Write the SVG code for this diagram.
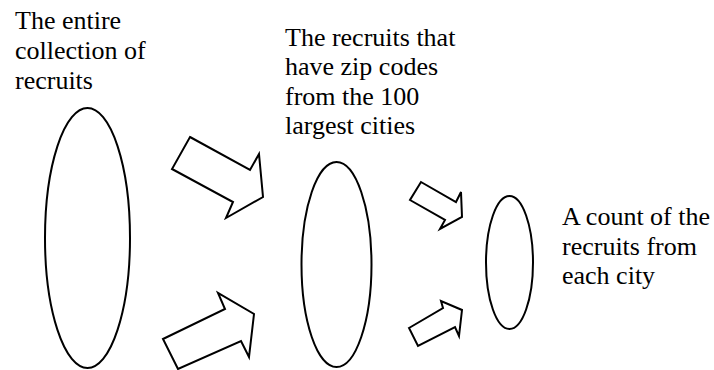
<svg xmlns="http://www.w3.org/2000/svg" width="714" height="370" viewBox="0 0 714 370">
<style>
.lbl{font-family:'Liberation Serif','Times New Roman',Times,'DejaVu Serif',serif;font-size:26px;fill:#000}
.shape{fill:#fff;stroke:#000;stroke-width:2;stroke-linejoin:miter}
</style>
<rect width="714" height="370" fill="#fff"/>
<g id="node-all">
<ellipse class="shape" cx="87.5" cy="238" rx="42.5" ry="130"/>
<text class="lbl" font-family="Liberation Serif, serif" x="15" y="29">The entire</text>
<text class="lbl" font-family="Liberation Serif, serif" x="15" y="59">collection of</text>
<text class="lbl" font-family="Liberation Serif, serif" x="15" y="89">recruits</text>
</g>
<g id="node-zip">
<ellipse class="shape" cx="336.5" cy="264.5" rx="35" ry="102.5"/>
<text class="lbl" x="285" y="46">The recruits that</text>
<text class="lbl" x="285" y="75">have zip codes</text>
<text class="lbl" x="285" y="105">from the 100</text>
<text class="lbl" x="285" y="134">largest cities</text>
</g>
<g id="node-count">
<ellipse class="shape" cx="509.5" cy="262.5" rx="23.5" ry="66.5"/>
<text class="lbl" x="562" y="225">A count of the</text>
<text class="lbl" x="562" y="255">recruits from</text>
<text class="lbl" x="562" y="284">each city</text>
</g>
<g id="connectors">
<polygon class="shape" points="190,137 250,170 259,154 263,197 226,218 233,202 172,169"/>
<polygon class="shape" points="163,339 225,309 218,293 254,314 249,357 241,341 178,369"/>
<polygon class="shape" points="421,182 456,202 461,192 462,217 440,229 445,220 410,200"/>
<polygon class="shape" points="409,328 443,308 441,301 462,310 459,336 455,327 418,346"/>
</g>
</svg>
